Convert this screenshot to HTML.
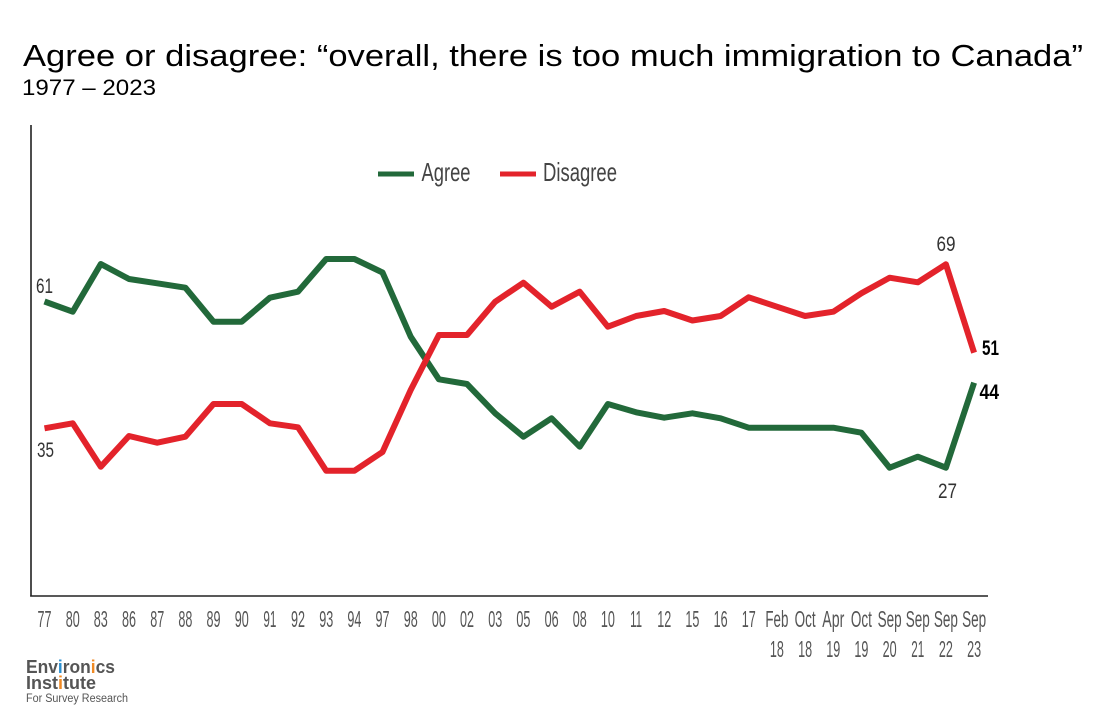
<!DOCTYPE html>
<html>
<head>
<meta charset="utf-8">
<style>
html,body{margin:0;padding:0;background:#fff;}
svg{display:block;}
text{font-family:"Liberation Sans",sans-serif;}
</style>
</head>
<body>
<svg width="1096" height="720" viewBox="0 0 1096 720" xmlns="http://www.w3.org/2000/svg">
<rect width="1096" height="720" fill="#fff"/>
<!-- Title -->
<text x="23" y="66" font-size="31" fill="#000" textLength="1060" lengthAdjust="spacingAndGlyphs">Agree or disagree: “overall, there is too much immigration to Canada”</text>
<text x="22" y="95" font-size="22" fill="#000" textLength="134" lengthAdjust="spacingAndGlyphs">1977 – 2023</text>

<!-- Axes -->
<line x1="31" y1="125" x2="31" y2="596.5" stroke="#222" stroke-width="1.6"/>
<line x1="30.2" y1="596" x2="988" y2="596" stroke="#222" stroke-width="1.6"/>

<!-- Legend -->
<line x1="378" y1="174" x2="414" y2="174" stroke="#22693A" stroke-width="5"/>
<text x="421.5" y="181" font-size="26" fill="#444" textLength="49" lengthAdjust="spacingAndGlyphs">Agree</text>
<line x1="500" y1="174" x2="536" y2="174" stroke="#E3232B" stroke-width="5"/>
<text x="543" y="181" font-size="26" fill="#444" textLength="74" lengthAdjust="spacingAndGlyphs">Disagree</text>

<!-- Series -->
<polyline fill="none" stroke="#22693A" stroke-width="6" stroke-linejoin="round" stroke-linecap="butt"
points="44.5,301.5 72.7,311.7 100.8,264 129,279 157.2,283.3 185.4,287.7 213.5,321.7 241.7,321.7 269.9,297.7 298,291.7 326.2,259 354.4,259 382.5,272.5 410.7,336.7 438.9,379.3 467,384 495.2,413.3 523.4,436.7 551.6,418.3 579.7,446.7 607.9,404 636.1,412.3 664.2,417.7 692.4,413.3 720.6,418.3 748.7,427.7 776.9,427.7 805.1,427.7 833.3,427.7 861.4,432.7 889.6,467.7 917.8,456.7 945.9,467.7 974.1,382.7"/>
<polyline fill="none" stroke="#E3232B" stroke-width="6" stroke-linejoin="round" stroke-linecap="butt"
points="44.5,428.3 72.7,423.3 100.8,466.7 129,436 157.2,442.7 185.4,436.7 213.5,404 241.7,404 269.9,423.3 298,427.3 326.2,470.7 354.4,470.7 382.5,452 410.7,390 438.9,335 467,335 495.2,301.7 523.4,282.7 551.6,306.7 579.7,291.7 607.9,326.7 636.1,316 664.2,311 692.4,320.5 720.6,316 748.7,297.3 776.9,306.7 805.1,316 833.3,311.7 861.4,293.3 889.6,277.7 917.8,282.3 945.9,264.3 974.1,352.7"/>

<!-- Data labels -->
<g font-size="21" fill="#333">
<text x="36" y="293" textLength="17" lengthAdjust="spacingAndGlyphs">61</text>
<text x="37" y="457" textLength="17" lengthAdjust="spacingAndGlyphs">35</text>
<text x="936.5" y="251" textLength="19" lengthAdjust="spacingAndGlyphs">69</text>
<text x="938" y="498" textLength="19" lengthAdjust="spacingAndGlyphs">27</text>
</g>
<g font-size="21" fill="#000" font-weight="bold">
<text x="982" y="355" textLength="17" lengthAdjust="spacingAndGlyphs">51</text>
<text x="979.5" y="399" textLength="19.5" lengthAdjust="spacingAndGlyphs">44</text>
</g>

<!-- X tick labels -->
<g font-size="23" fill="#555" text-anchor="middle">
<text x="44.5" y="627" textLength="14" lengthAdjust="spacingAndGlyphs">77</text>
<text x="72.7" y="627" textLength="14" lengthAdjust="spacingAndGlyphs">80</text>
<text x="100.8" y="627" textLength="14" lengthAdjust="spacingAndGlyphs">83</text>
<text x="129" y="627" textLength="14" lengthAdjust="spacingAndGlyphs">86</text>
<text x="157.2" y="627" textLength="14" lengthAdjust="spacingAndGlyphs">87</text>
<text x="185.4" y="627" textLength="14" lengthAdjust="spacingAndGlyphs">88</text>
<text x="213.5" y="627" textLength="14" lengthAdjust="spacingAndGlyphs">89</text>
<text x="241.7" y="627" textLength="14" lengthAdjust="spacingAndGlyphs">90</text>
<text x="269.9" y="627" textLength="13" lengthAdjust="spacingAndGlyphs">91</text>
<text x="298" y="627" textLength="14" lengthAdjust="spacingAndGlyphs">92</text>
<text x="326.2" y="627" textLength="14" lengthAdjust="spacingAndGlyphs">93</text>
<text x="354.4" y="627" textLength="14" lengthAdjust="spacingAndGlyphs">94</text>
<text x="382.5" y="627" textLength="14" lengthAdjust="spacingAndGlyphs">97</text>
<text x="410.7" y="627" textLength="14" lengthAdjust="spacingAndGlyphs">98</text>
<text x="438.9" y="627" textLength="14" lengthAdjust="spacingAndGlyphs">00</text>
<text x="467" y="627" textLength="14" lengthAdjust="spacingAndGlyphs">02</text>
<text x="495.2" y="627" textLength="14" lengthAdjust="spacingAndGlyphs">03</text>
<text x="523.4" y="627" textLength="14" lengthAdjust="spacingAndGlyphs">05</text>
<text x="551.6" y="627" textLength="14" lengthAdjust="spacingAndGlyphs">06</text>
<text x="579.7" y="627" textLength="14" lengthAdjust="spacingAndGlyphs">08</text>
<text x="607.9" y="627" textLength="14" lengthAdjust="spacingAndGlyphs">10</text>
<text x="636.1" y="627" textLength="12" lengthAdjust="spacingAndGlyphs">11</text>
<text x="664.2" y="627" textLength="14" lengthAdjust="spacingAndGlyphs">12</text>
<text x="692.4" y="627" textLength="14" lengthAdjust="spacingAndGlyphs">15</text>
<text x="720.6" y="627" textLength="14" lengthAdjust="spacingAndGlyphs">16</text>
<text x="748.7" y="627" textLength="14" lengthAdjust="spacingAndGlyphs">17</text>
<text x="776.9" y="627" textLength="23" lengthAdjust="spacingAndGlyphs">Feb</text>
<text x="805.1" y="627" textLength="21" lengthAdjust="spacingAndGlyphs">Oct</text>
<text x="833.3" y="627" textLength="22" lengthAdjust="spacingAndGlyphs">Apr</text>
<text x="861.4" y="627" textLength="21" lengthAdjust="spacingAndGlyphs">Oct</text>
<text x="889.6" y="627" textLength="24" lengthAdjust="spacingAndGlyphs">Sep</text>
<text x="917.8" y="627" textLength="24" lengthAdjust="spacingAndGlyphs">Sep</text>
<text x="945.9" y="627" textLength="24" lengthAdjust="spacingAndGlyphs">Sep</text>
<text x="974.1" y="627" textLength="24" lengthAdjust="spacingAndGlyphs">Sep</text>
<text x="776.9" y="657" textLength="14" lengthAdjust="spacingAndGlyphs">18</text>
<text x="805.1" y="657" textLength="14" lengthAdjust="spacingAndGlyphs">18</text>
<text x="833.3" y="657" textLength="14" lengthAdjust="spacingAndGlyphs">19</text>
<text x="861.4" y="657" textLength="14" lengthAdjust="spacingAndGlyphs">19</text>
<text x="889.6" y="657" textLength="14" lengthAdjust="spacingAndGlyphs">20</text>
<text x="917.8" y="657" textLength="13" lengthAdjust="spacingAndGlyphs">21</text>
<text x="945.9" y="657" textLength="14" lengthAdjust="spacingAndGlyphs">22</text>
<text x="974.1" y="657" textLength="14" lengthAdjust="spacingAndGlyphs">23</text>
</g>

<!-- Logo -->
<text x="26" y="673" font-size="18" font-weight="bold" fill="#555" textLength="89" lengthAdjust="spacingAndGlyphs">Env<tspan fill="#2a8fd0">i</tspan>ron<tspan fill="#f08a24">i</tspan>cs</text>
<text x="26" y="689" font-size="18" font-weight="bold" fill="#555" textLength="70" lengthAdjust="spacingAndGlyphs">Inst<tspan fill="#f08a24">i</tspan>tute</text>
<text x="26" y="702" font-size="11.5" fill="#555" textLength="102" lengthAdjust="spacingAndGlyphs">For Survey Research</text>
</svg>
</body>
</html>
